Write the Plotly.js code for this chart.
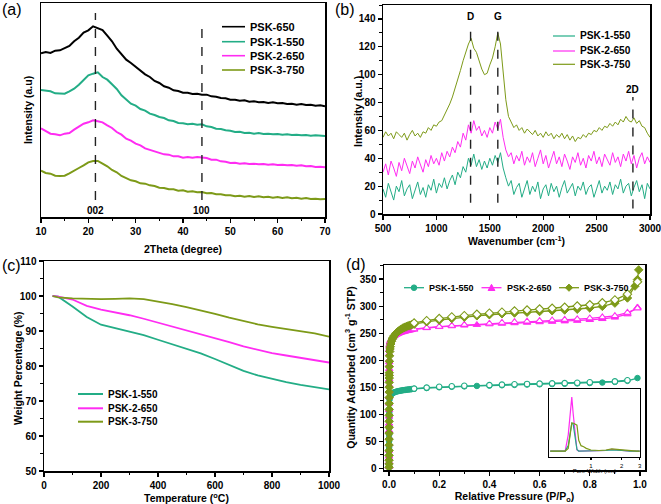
<!DOCTYPE html>
<html><head><meta charset="utf-8">
<script src="https://cdn.plot.ly/plotly-3.0.1.min.js"></script>
<style>body{margin:0;background:#fff}</style>
</head><body><div id="chart" style="width:661px;height:504px"></div>
<script>
// ---------- (a) XRD ----------
const xrdTheta = [10,11,12,13,14,15,16,17,18,19,20,21,22,23,24,25,26,27,28,29,30,31,32,33,34,35,36,37,38,39,40,41,42,43,44,45,46,47,48,49,50,51,52,53,54,55,56,57,58,59,60,61,62,63,64,65,66,67,68,69,70];
const xrdPSK650 = [491,495,492,499,500,507,513,527,538,553,560,572,566,561,544,527,505,489,472,462,450,440,428,420,408,402,392,388,380,378,373,373,369,370,367,367,362,361,357,356,352,352,349,350,346,347,344,345,342,344,341,342,339,340,337,339,336,337,334,335,332];
const xrdPSK1 = [381,378,377,371,370,370,377,385,397,410,425,430,434,420,412,398,384,365,352,340,334,324,319,310,306,300,297,290,288,282,281,278,280,277,278,272,270,265,264,260,259,255,256,252,253,250,252,249,250,248,249,247,248,246,247,245,246,244,245,243,243];
const xrdPSK2 = [266,257,250,248,245,250,252,262,270,280,284,290,287,284,275,267,255,247,235,229,220,215,206,202,196,194,188,187,182,182,178,180,178,180,178,177,172,172,167,166,162,163,160,161,159,160,158,159,157,158,156,157,155,156,154,155,152,153,150,151,149];
const xrdPSK3 = [139,132,130,124,123,124,131,138,147,155,164,168,168,160,152,141,134,123,117,110,107,101,100,95,93,88,87,83,83,79,80,76,77,74,75,71,72,68,68,65,65,62,64,61,63,60,62,59,61,58,60,57,59,56,58,55,57,54,55,53,54];
const xrdPeaks = [21.5, 44];
const xrdPeakLabels = ['002','100'];

// ---------- (b) Raman ----------
const ramanWn = [500,525,550,575,600,625,650,675,700,725,750,775,800,825,850,875,900,925,950,975,1000,1025,1050,1075,1100,1125,1150,1175,1200,1225,1250,1275,1300,1325,1350,1375,1400,1425,1450,1475,1500,1525,1550,1575,1600,1625,1650,1675,1700,1725,1750,1775,1800,1825,1850,1875,1900,1925,1950,1975,2000,2025,2050,2075,2100,2125,2150,2175,2200,2225,2250,2275,2300,2325,2350,2375,2400,2425,2450,2475,2500,2525,2550,2575,2600,2625,2650,2675,2700,2725,2750,2775,2800,2825,2850,2875,2900,2925,2950,2975,3000];
const ramanPSK1 = [18,12,22,15,10,20,16,24,13,18, 21,11,17,23,14,19,12,21,17,25, 15,22,19,26,18,24,28,21,30,26, 34,30,40,35,43,34,39,32,38,33, 40,35,42,37,44,33,26,20,24,14, 19,22,12,18,24,14,20,16,23,11, 18,21,13,22,16,20,12,19,24,15, 18,22,13,20,17,23,14,19,21,12, 18,24,15,20,17,23,14,21,18,25, 15,20,22,13,19,24,16,21,11,22, 18];
const ramanPSK2 = [30,36,28,38,33,27,37,31,40,34, 29,38,33,41,35,30,39,34,42,36, 40,35,44,38,45,41,48,44,52,48, 58,53,64,58,67,60,63,56,60,55, 62,58,66,61,68,55,46,41,44,36, 42,38,45,35,41,37,44,34,40,46, 36,42,33,40,45,36,41,34,43,38, 32,41,37,44,35,40,33,42,38,45, 36,41,34,43,39,35,44,37,41,34, 43,38,45,36,42,33,40,44,36,41, 37];
const ramanPSK3 = [55,59,56,58,54,59,57,55,58,53, 57,60,56,58,55,59,58,62,60,64, 63,66,67,71,74,79,84,90,96,103, 110,116,122,126,119,116,110,104,100,101, 107,112,120,130,122,102,82,70,66,62, 64,60,62,58,61,59,57,60,56,58, 55,59,56,58,54,57,55,58,54,57, 53,56,52,55,54,57,55,58,57,60, 59,62,60,63,62,65,63,66,64,68, 66,70,67,66,69,65,67,63,62,58, 55];
const ramanBands = [1320, 1575, 2840];
const ramanBandLabels = ['D','G','2D'];

// ---------- (c) TGA ----------
const tgaTemp = [30,50,100,150,200,250,300,350,400,450,500,550,600,650,700,750,800,850,900,950,1000];
const tgaPSK1 = [100,99.8,97,94,91.8,90.8,89.9,88.8,87.5,86.2,85.0,83.6,82.0,80.2,78.6,77.3,76.3,75.4,74.6,73.9,73.3];
const tgaPSK2 = [100,99.8,99,97.2,96.1,95.4,94.5,93.5,92.4,91.4,90.3,89.2,88.0,86.8,85.6,84.6,83.7,83.0,82.3,81.6,81.0];
const tgaPSK3 = [100,99.6,99.3,99.1,99.1,99.2,99.3,99.1,98.5,97.7,96.8,95.9,94.9,93.8,92.8,91.9,91.2,90.6,90.0,89.3,88.4];

// ---------- (d) N2 isotherms ----------
const pAds = [0.00005,0.0001,0.00015,0.0002,0.00025,0.0003,0.00035,0.0004,0.00045,0.0005,0.00055,0.0006,0.00065,0.0007,0.00075,0.0008,0.00085,0.0009,0.00095,0.001,0.0012,0.0015,0.002,0.003,0.004,0.005,0.007,0.01,0.013,0.016,0.02,0.025,0.03,0.035,0.04,0.045,0.05,0.055,0.06,0.065,0.07,0.075,0.08,0.085,0.09,0.1,0.15,0.2,0.25,0.3,0.35,0.4,0.45,0.5,0.55,0.6,0.65,0.7,0.75,0.8,0.85,0.9,0.95,0.99];
const qAdsPSK1 = [2,6,10,15,20,26,32,38,44,50,56,62,68,74,80,86,92,97,100,103,110,120,127,131,133,134.5,136,137.5,138.5,139.5,140.5,141.2,142,142.6,143.1,143.6,144,144.4,144.8,145.1,145.4,145.7,146,146.2,146.5,147,148.5,149.8,150.8,151.6,152.4,153,153.6,154.3,154.9,155.4,155.9,156.4,157,157.8,158.6,159.8,161.8,167];
const pDesPSK1 = [0.95,0.9,0.8,0.75,0.7,0.65,0.6,0.55,0.5,0.45,0.4,0.3,0.25,0.2,0.15,0.1];
const qDesPSK1 = [163,160.8,159.2,158.3,157.6,157.1,156.6,156.1,155.6,154.8,154,152.8,151.8,150.8,149.3,147.5];
const qAdsPSK2 = [3,12,22,33,45,57,70,83,96,108,120,132,143,154,165,175,184,192,197,201,212,220,226,230,233,235,237,239.5,241.5,243,244.5,246,247.5,248.7,249.7,250.6,251.4,252.1,252.8,253.4,254,254.5,255,255.5,256,256.8,259.5,261.5,263,264.3,265.5,266.6,267.6,268.6,269.5,270.4,271.2,272,273,274.5,276.3,279,285,298];
const pDesPSK2 = [0.99,0.95,0.9,0.85,0.8,0.75,0.7,0.65,0.6,0.55,0.5,0.45,0.4,0.3,0.25,0.2,0.15,0.1];
const qDesPSK2 = [296,288,282,279.5,277.5,276,274.8,273.8,272.8,271.8,270.8,269.5,267.8,265.5,264,262.2,260,257.5];
const pAdsPSK3 = [0.00005,0.0001,0.00015,0.0002,0.00025,0.0003,0.00035,0.0004,0.00045,0.0005,0.00055,0.0006,0.00065,0.0007,0.00075,0.0008,0.00085,0.0009,0.00095,0.001,0.0012,0.0015,0.002,0.003,0.004,0.005,0.007,0.01,0.013,0.016,0.02,0.025,0.03,0.035,0.04,0.045,0.05,0.055,0.06,0.065,0.07,0.075,0.08,0.085,0.09,0.1,0.15,0.2,0.25,0.3,0.35,0.4,0.45,0.5,0.55,0.6,0.65,0.7,0.75,0.8,0.85,0.9,0.95,0.98,0.99,0.995];
const qAdsPSK3 = [2,8,15,24,33,43,54,65,76,87,98,109,120,131,141,150,159,167,172,177,188,198,208,216,221,225,230,235,239,242,245,248,250.5,252.7,254.5,256.2,257.7,259,260.2,261.3,262.3,263.2,264,264.8,265.5,266.5,271,274,277,279.5,282,284,285.8,287.2,288.6,290,291.4,292.7,294.2,296.5,299.5,305.5,315,337,349,367];
const pDesPSK3 = [0.99,0.95,0.9,0.85,0.8,0.75,0.7,0.65,0.6,0.55,0.5,0.45,0.4,0.35,0.3,0.25,0.2,0.15,0.1];
const qDesPSK3 = [345,322,311.5,306,302.5,300,297.7,296,294.6,292.8,291,288.8,287,284.8,282.3,280,277,273,268.8];
// inset: pore size distribution
const poreWidth = [0.4,0.5,0.56,0.6,0.63,0.65,0.67,0.7,0.73,0.76,0.8,0.85,0.9,1.0,1.2,1.4,1.6,1.8,2.0,2.4,2.8,3.0];
const psdPSK1 = [0,0,0,0.1,0.4,0.52,0.5,0.3,0.03,0,0,0,0,0,0,0.01,0.02,0.02,0.01,0,0,0];
const psdPSK2 = [0,0,0,0.3,0.8,1.0,0.7,0.3,0.02,0,0,0,0,0,0,0.01,0.03,0.02,0.01,0,0,0];
const psdPSK3 = [0,0,0,0.05,0.4,0.52,0.52,0.5,0.48,0.2,0.1,0.08,0.05,0.02,0.01,0.02,0.04,0.03,0.02,0.01,0,0];

const names = ['PSK-650','PSK-1-550','PSK-2-650','PSK-3-750'];
const C = {k:'#000000', teal:'#23ad86', pink:'#ff2cf2', olive:'#7d9a18'};
const FONT = 'Liberation Sans, Arial, Helvetica, sans-serif';

const W = 661, H = 504;
const P = x => x / W;
const Q = y => 1 - y / H;

function axis(o) {
  return Object.assign({
    showline:true, linecolor:'#000', linewidth:1.5, mirror:true,
    ticks:'outside', ticklen:4, tickwidth:1.2, tickcolor:'#000',
    showgrid:false, zeroline:false, ticklabeloverflow:'allow',
    tickfont:{family:FONT, size:10, weight:700, color:'#000'}
  }, o);
}
const TF = {family:FONT, size:10.5, weight:700, color:'#000'};
function ttl(text, standoff) { return {text:text, standoff:standoff, font:TF}; }
function minor(d) { return {ticks:'outside', ticklen:2.5, tickwidth:1, tickcolor:'#000', dtick:d}; }

const traces = [];
// (a)
[[xrdPSK650,C.k,0],[xrdPSK1,C.teal,1],[xrdPSK2,C.pink,2],[xrdPSK3,C.olive,3]].forEach(([y,c,i]) => {
  traces.push({x:xrdTheta, y:y, xaxis:'x', yaxis:'y', mode:'lines', name:names[i], line:{color:c, width:2}});
});
// (b)
[[ramanPSK1,C.teal,1],[ramanPSK2,C.pink,2],[ramanPSK3,C.olive,3]].forEach(([y,c,i]) => {
  traces.push({x:ramanWn, y:y, xaxis:'x2', yaxis:'y2', mode:'lines', name:names[i], line:{color:c, width:1}});
});
// (c)
[[tgaPSK1,C.teal,1],[tgaPSK2,C.pink,2],[tgaPSK3,C.olive,3]].forEach(([y,c,i]) => {
  traces.push({x:tgaTemp, y:y, xaxis:'x3', yaxis:'y3', mode:'lines', name:names[i], line:{color:c, width:1.8}});
});
// (d)
const iso = [
  [pAds, qAdsPSK1, pDesPSK1, qDesPSK1, C.teal, 'circle', 5.5, 1],
  [pAds, qAdsPSK2, pDesPSK2, qDesPSK2, C.pink, 'triangle-up', 6.5, 2],
  [pAdsPSK3, qAdsPSK3, pDesPSK3, qDesPSK3, C.olive, 'diamond', 6.5, 3]
];
iso.forEach(([pa,qa,pd,qd,c,sym,sz,i]) => {
  traces.push({x:pa, y:qa, xaxis:'x4', yaxis:'y4', mode:'lines+markers', name:names[i],
    line:{color:c, width:1.3}, marker:{symbol:sym, size:sz, color:c, line:{color:c, width:1}}});
  traces.push({x:pd, y:qd, xaxis:'x4', yaxis:'y4', mode:'lines+markers', name:names[i]+' desorption',
    line:{color:c, width:1.3}, marker:{symbol:sym, size:sz, color:'#ffffff', line:{color:c, width:1.1}}});
});
// inset
[[psdPSK2,C.pink,2],[psdPSK1,C.teal,1],[psdPSK3,C.olive,3]].forEach(([y,c,i]) => {
  traces.push({x:poreWidth, y:y, xaxis:'x5', yaxis:'y5', mode:'lines', name:names[i]+' PSD', line:{color:c, width:1.2}});
});

const shapes = [];
const annotations = [];
// dashed guide lines
xrdPeaks.forEach((x, k) => {
  shapes.push({type:'line', xref:'x', yref:'paper', x0:x, x1:x, y0:Q(200), y1:Q(k===0?13:22), line:{color:'#222', width:1.4, dash:'dash'}});
  annotations.push({xref:'x', yref:'paper', x:x, y:Q(210), text:xrdPeakLabels[k], showarrow:false, xanchor:'center', yanchor:'middle', font:{family:FONT, size:10, weight:700, color:'#000'}});
});
const bandTop = [137, 137, 84], bandBot = [8, 8, 4], bandLab = [142, 142, 89.5];
ramanBands.forEach((x, k) => {
  shapes.push({type:'line', xref:'x2', yref:'y2', x0:x, x1:x, y0:bandBot[k], y1:bandTop[k], line:{color:'#222', width:1.4, dash:'dash'}});
  annotations.push({xref:'x2', yref:'y2', x:x - (k===2?3:1), y:bandLab[k], text:ramanBandLabels[k], showarrow:false, xanchor:'center', yanchor:'middle', font:{family:FONT, size:10, weight:700, color:'#000'}});
});
// y titles placed as rotated text for (b) and (c)
annotations.push({xref:'paper', yref:'paper', x:P(358), y:Q(112), text:'Intensity (a.u.)', textangle:-90, showarrow:false, xanchor:'center', yanchor:'middle', font:TF});
annotations.push({xref:'paper', yref:'paper', x:P(18), y:Q(368), text:'Weight Percentage (%)', textangle:-90, showarrow:false, xanchor:'center', yanchor:'middle', font:TF});

// manual legends
function legLine(x0, x1, y, c, w) {
  shapes.push({type:'line', xref:'paper', yref:'paper', x0:P(x0), x1:P(x1), y0:Q(y), y1:Q(y), line:{color:c, width:w}});
}
function legText(x, y, t, s) {
  annotations.push({xref:'paper', yref:'paper', x:P(x), y:Q(y), text:t, showarrow:false, xanchor:'left', yanchor:'middle', font:{family:FONT, size:s, weight:700, color:'#000'}});
}
[[26.7,C.k,0],[41.7,C.teal,1],[55.7,C.pink,2],[70,C.olive,3]].forEach(([y,c,i]) => { legLine(222,245,y,c,1.6); legText(248,y,names[i],11); });
[[36,C.teal,1],[51,C.pink,2],[64.3,C.olive,3]].forEach(([y,c,i]) => { legLine(553,575,y,c,1.2); legText(578,y,names[i],10.2); });
[[394,C.teal,1],[408.3,C.pink,2],[421.7,C.olive,3]].forEach(([y,c,i]) => { legLine(78,103,y,c,2); legText(106,y,names[i],10); });
const legY = 287.7;
[[404,C.teal,1,'circle'],[481.5,C.pink,2,'tri'],[559,C.olive,3,'dia']].forEach(([x,c,i,s]) => {
  legLine(x, x+20, legY, c, 1.3);
  const cx = x + 10, cy = legY;
  if (s === 'circle') shapes.push({type:'circle', xref:'paper', yref:'paper', x0:P(cx-2.8), x1:P(cx+2.8), y0:Q(cy+2.8), y1:Q(cy-2.8), fillcolor:c, line:{color:c, width:1}});
  if (s === 'tri') shapes.push({type:'path', xref:'paper', yref:'paper', path:`M ${P(cx-3.4)},${Q(cy+2.8)} L ${P(cx+3.4)},${Q(cy+2.8)} L ${P(cx)},${Q(cy-3.4)} Z`, fillcolor:c, line:{color:c, width:1}});
  if (s === 'dia') shapes.push({type:'path', xref:'paper', yref:'paper', path:`M ${P(cx)},${Q(cy-3.6)} L ${P(cx+3.6)},${Q(cy)} L ${P(cx)},${Q(cy+3.6)} L ${P(cx-3.6)},${Q(cy)} Z`, fillcolor:c, line:{color:c, width:1}});
  legText(x + 23, legY, names[i], 9);
});
// panel labels
[['(a)',0,9],['(b)',333,9],['(c)',0,265],['(d)',344,264]].forEach(([t,x,y]) => {
  annotations.push({xref:'paper', yref:'paper', x:P(x), y:Q(y), text:t, showarrow:false, xanchor:'left', yanchor:'middle', font:{family:FONT, size:16, color:'#000'}});
});

const layout = {
  width:W, height:H, autosize:false, margin:{l:0,r:0,t:0,b:0},
  paper_bgcolor:'#fff', plot_bgcolor:'rgba(0,0,0,0)', showlegend:false,
  font:{family:FONT, color:'#000'},
  xaxis: axis({domain:[P(41),P(325)], anchor:'y', range:[10,70], dtick:10, minor:minor(5), title:ttl('2Theta (degree)',10)}),
  yaxis: axis({domain:[Q(217),Q(3)], anchor:'x', range:[0,642], ticks:'', showticklabels:false, title:ttl('Intensity (a.u)',5)}),
  xaxis2: axis({domain:[P(383),P(650)], anchor:'y2', range:[500,3000], dtick:500, minor:minor(250), title:ttl('Wavenumber (cm<sup>-1</sup>)',5)}),
  yaxis2: axis({domain:[Q(214),Q(5)], anchor:'x2', range:[0,150], dtick:20, minor:minor(10)}),
  xaxis3: axis({domain:[P(44),P(329)], anchor:'y3', range:[0,1000], dtick:200, minor:minor(100), title:ttl('Temperature (<sup>o</sup>C)',8)}),
  yaxis3: axis({domain:[Q(471),Q(261)], anchor:'x3', range:[50,110], dtick:10, minor:minor(5)}),
  xaxis4: axis({domain:[P(384),P(645)], anchor:'y4', range:[-0.02,1.02], dtick:0.2, tickformat:'.1f', minor:minor(0.1), title:ttl('Relative Pressure (P/P<sub>o</sub>)',7)}),
  yaxis4: axis({domain:[Q(470),Q(265)], anchor:'x4', range:[-3,376], dtick:50, minor:minor(25), title:ttl('Quantity Adsorbed (cm<sup>3</sup> g<sup>-1</sup> STP)',2)}),
  xaxis5: axis({domain:[P(549),P(640)], anchor:'y5', type:'log', range:[-0.41,0.48], tickvals:[1,2,3], ticktext:['1','2','3'], ticklen:2, linewidth:1.3,
    tickfont:{family:FONT, size:6, color:'#000'}, title:{text:'Pore Width (nm)', standoff:0, font:{family:FONT, size:6, color:'#000'}}}),
  yaxis5: axis({domain:[Q(457),Q(389)], anchor:'x5', range:[-0.11,1.15], ticks:'', showticklabels:false, linewidth:1.3}),
  shapes:shapes, annotations:annotations
};
Plotly.newPlot('chart', traces, layout, {staticPlot:true, displayModeBar:false});
</script></body></html>
